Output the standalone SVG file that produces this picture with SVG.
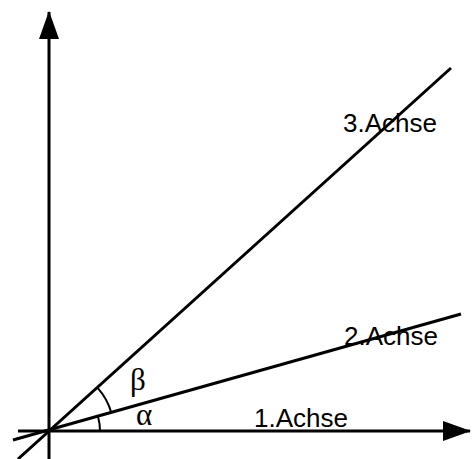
<svg xmlns="http://www.w3.org/2000/svg" width="473" height="459" viewBox="0 0 473 459">
<style>
.ax{stroke:#000;stroke-width:3;fill:none}
.arc{stroke:#000;stroke-width:2;fill:none}
.lbl{font-family:"Liberation Sans",Arial,sans-serif;font-size:26px;fill:#000}
.gr{font-family:"Liberation Serif","Times New Roman",serif;font-size:31px;fill:#000}
</style>
<defs>
<marker id="ah" markerUnits="userSpaceOnUse" markerWidth="28" markerHeight="20" refX="27" refY="10" orient="auto">
<path d="M0,0 L28,10 L0,20 Z" fill="#000"/>
</marker>
</defs>
<g id="connectors">
<line class="ax" x1="49" y1="459" x2="49" y2="12" marker-end="url(#ah)"/>
<line class="ax" x1="18" y1="431" x2="470" y2="431" marker-end="url(#ah)"/>
<line class="ax" x1="13" y1="440" x2="461" y2="314"/>
<line class="ax" x1="18" y1="459" x2="451" y2="68"/>
<path class="arc" d="M100,431 A51,51 0 0 0 98.1,417.1"/>
<path class="arc" d="M111.5,413.2 A65,65 0 0 0 97.2,387.4"/>
</g>
<g id="label-achse1"><text class="lbl" x="254" y="427">1.Achse</text></g>
<g id="label-achse2"><text class="lbl" x="344" y="345">2.Achse</text></g>
<g id="label-achse3"><text class="lbl" x="343" y="132">3.Achse</text></g>
<g id="label-beta"><text class="gr" x="130" y="390">β</text></g>
<g id="label-alpha"><text class="gr" x="136" y="425">α</text></g>
</svg>
